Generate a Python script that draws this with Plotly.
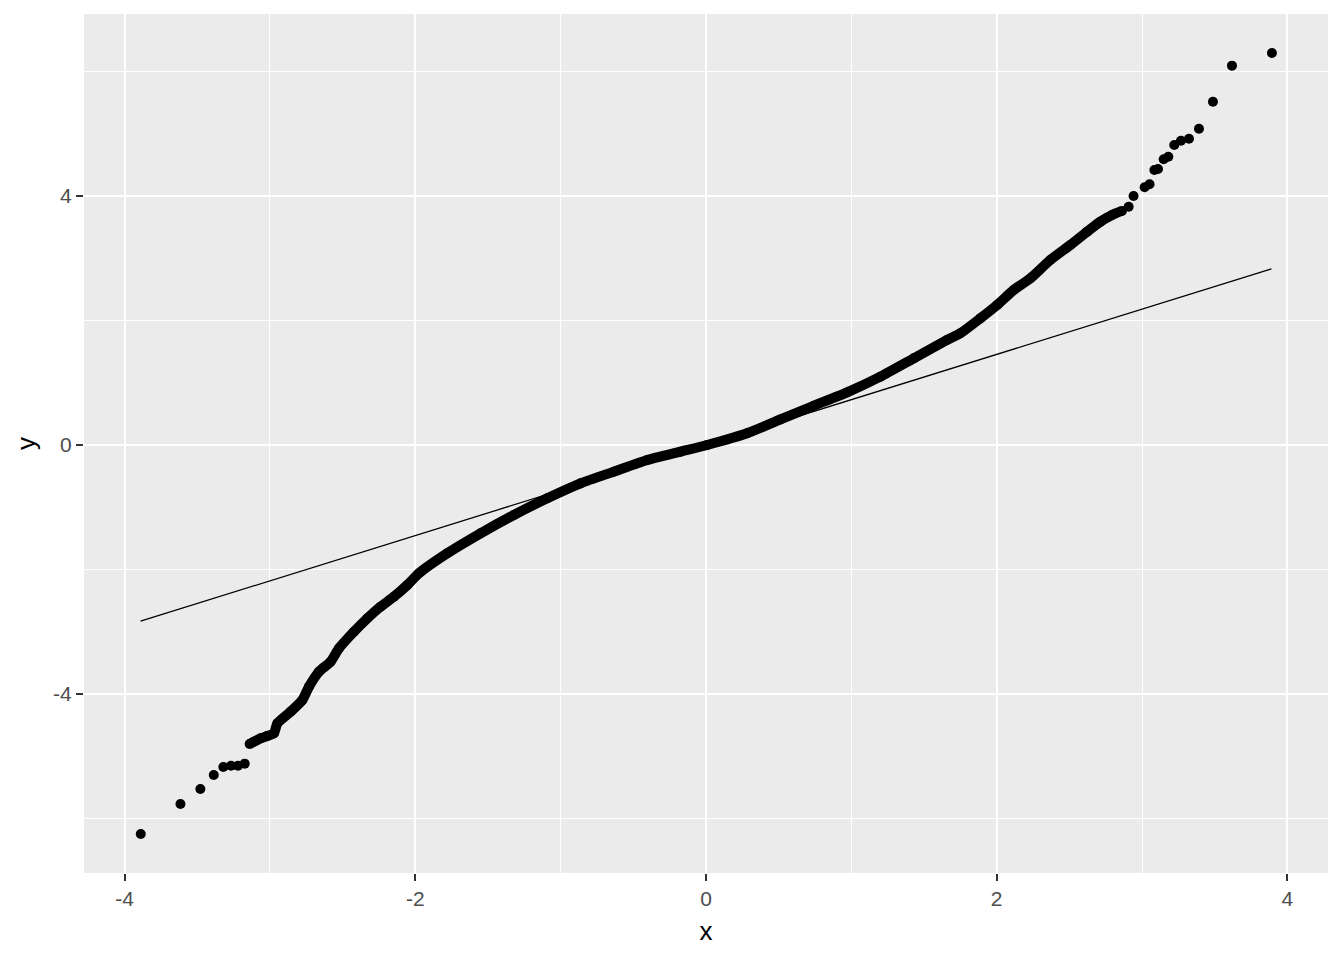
import plotly.graph_objects as go

# Dense central part of the Q-Q curve (theoretical, sample)
curve_x = [-3.140, -3.110, -3.064, -3.018, -2.973, -2.949, -2.858, -2.777, -2.732, -2.663,
           -2.583, -2.525, -2.422, -2.330, -2.239, -2.147, -2.055, -1.975, -1.780, -1.551,
           -1.322, -1.092, -0.863, -0.634, -0.404, -0.175, 0.008, 0.283, 0.512, 0.741,
           0.971, 1.200, 1.429, 1.659, 1.750, 1.888, 2.003, 2.117, 2.232, 2.369,
           2.507, 2.622, 2.713, 2.794, 2.862]
curve_y = [-4.803, -4.766, -4.712, -4.675, -4.632, -4.471, -4.284, -4.096, -3.883, -3.642,
           -3.481, -3.266, -2.999, -2.784, -2.598, -2.437, -2.249, -2.061, -1.740, -1.419,
           -1.124, -0.856, -0.616, -0.428, -0.241, -0.107, 0.000, 0.188, 0.410, 0.630,
           0.845, 1.098, 1.392, 1.687, 1.794, 2.035, 2.249, 2.490, 2.678, 2.972,
           3.213, 3.427, 3.587, 3.695, 3.760]

# Sparse tail points
low_x = [-3.889, -3.616, -3.479, -3.387, -3.321, -3.268, -3.220, -3.174]
low_y = [-6.249, -5.767, -5.526, -5.301, -5.173, -5.152, -5.152, -5.119]
high_x = [2.908, 2.942, 3.018, 3.052, 3.085, 3.110, 3.149, 3.181, 3.222, 3.268,
          3.323, 3.392, 3.488, 3.619, 3.894]
high_y = [3.828, 4.000, 4.140, 4.188, 4.418, 4.434, 4.590, 4.632, 4.819, 4.889,
          4.920, 5.081, 5.515, 6.094, 6.297]

# Reference line (stat_qq_line)
line_x = [-3.8906, 3.8906]
line_y = [-2.830, 2.830]

x_ticks = [-4, -2, 0, 2, 4]
y_ticks = [-4, 0, 4]

fig = go.Figure()
fig.add_trace(go.Scatter(x=curve_x, y=curve_y, mode="lines+markers",
                         line=dict(color="black", width=10, shape="spline", smoothing=0.6),
                         marker=dict(color="black", size=10),
                         hoverinfo="skip", showlegend=False))
fig.add_trace(go.Scatter(x=low_x + high_x, y=low_y + high_y, mode="markers",
                         marker=dict(color="black", size=10),
                         showlegend=False))
fig.add_trace(go.Scatter(x=line_x, y=line_y, mode="lines",
                         line=dict(color="black", width=1.3),
                         showlegend=False))

font = "Liberation Sans, Arial, sans-serif"
axis_common = dict(
    showgrid=True, gridcolor="white", gridwidth=2.4, zeroline=False,
    ticks="outside", ticklen=7, tickwidth=2, tickcolor="#333333",
    tickfont=dict(size=21, color="#4D4D4D"),
    showline=False,
)
fig.update_layout(
    width=1344, height=960,
    paper_bgcolor="white", plot_bgcolor="#EBEBEB",
    margin=dict(l=84, r=16, t=14, b=87),
    font=dict(family=font),
    xaxis=dict(range=[-4.2797, 4.2797], tickvals=x_ticks, ticktext=[str(v) for v in x_ticks],
               minor=dict(dtick=1, tick0=0, showgrid=True, gridcolor="white", gridwidth=1.2),
               title=dict(text="x", font=dict(size=26, color="black"), standoff=12),
               **axis_common),
    yaxis=dict(range=[-6.876, 6.924], tickvals=y_ticks, ticktext=[str(v) for v in y_ticks],
               minor=dict(dtick=2, tick0=0, showgrid=True, gridcolor="white", gridwidth=1.2),
               title=dict(text="y", font=dict(size=26, color="black"), standoff=10),
               **axis_common),
)
fig.write_html("out.html", config={"displayModeBar": False},
               post_script="document.body.style.margin='0';")
